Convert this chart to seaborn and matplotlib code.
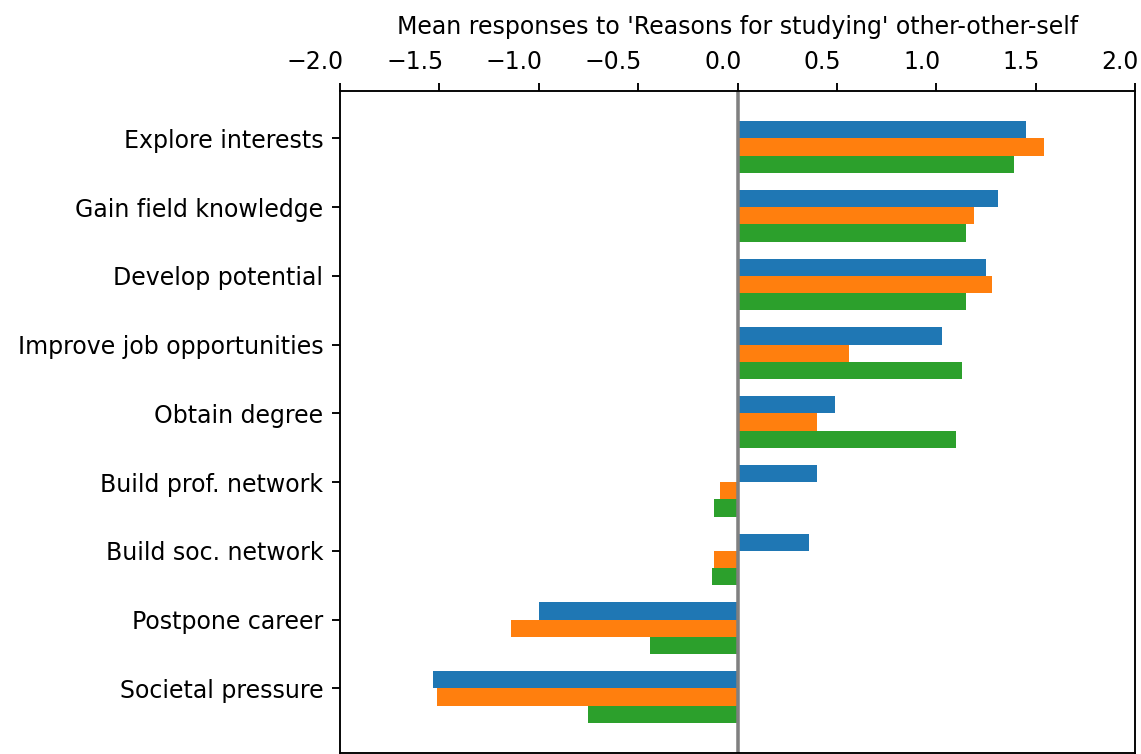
import numpy as np
import pandas as pd
import matplotlib
matplotlib.use('Agg')
import matplotlib.pyplot as plt
import matplotlib.transforms as mtransforms
import seaborn as sns

# reasons, top to bottom
reasons = ['Explore interests', 'Gain field knowledge', 'Develop potential',
           'Improve job opportunities', 'Obtain degree', 'Build prof. network',
           'Build soc. network', 'Postpone career', 'Societal pressure']

# mean responses, one list per group (order as in title: other-other-self)
other_1 = [1.45, 1.31, 1.25, 1.03, 0.49, 0.40, 0.36, -1.00, -1.53]
other_2 = [1.54, 1.19, 1.28, 0.56, 0.40, -0.09, -0.12, -1.14, -1.51]
self_ = [1.39, 1.15, 1.15, 1.13, 1.10, -0.12, -0.13, -0.44, -0.75]

groups = ['other 1', 'other 2', 'self']

df = pd.DataFrame({
    'reason': reasons * 3,
    'mean': other_1 + other_2 + self_,
    'group': [g for g in groups for _ in reasons],
})

DPI = 170
fig = plt.figure(figsize=(1141 / DPI, 754 / DPI), dpi=DPI)
ax = fig.add_axes([340 / 1141, 1 / 754, 795 / 1141, 662 / 754])

sns.barplot(data=df, x='mean', y='reason', hue='group', order=reasons,
            hue_order=groups, palette=['tab:blue', 'tab:orange', 'tab:green'],
            saturation=1, width=0.75, orient='h', legend=False, ax=ax,
            errorbar=None)

ax.axvline(0, color='grey', linewidth=1.5)
ax.set_xlim(-2, 2)

# in the original the tick sits between the 1st and 2nd bar of each group
ax.set_yticks(np.arange(len(reasons)) - 0.125, reasons)
ax.set_ylim(len(reasons) - 1 + 0.815, -0.815)

ax.xaxis.tick_top()
ax.xaxis.set_label_position('top')
ax.set_xlabel("Mean responses to 'Reasons for studying' other-other-self",
              labelpad=7)
ax.set_ylabel('')

# x tick labels sit right-aligned on their ticks in the original
offset = mtransforms.ScaledTranslation(4 / DPI, 0, fig.dpi_scale_trans)
for lbl in ax.get_xticklabels():
    lbl.set_horizontalalignment('right')
    lbl.set_transform(lbl.get_transform() + offset)

fig.savefig('out.png', dpi=DPI)
